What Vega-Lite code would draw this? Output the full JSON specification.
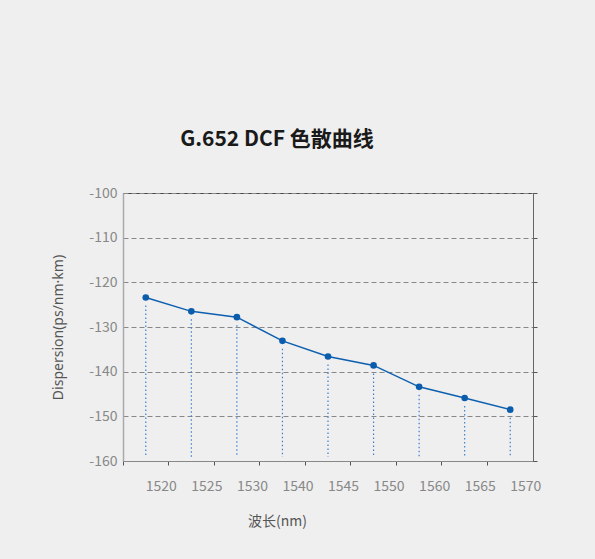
{
  "$schema": "https://vega.github.io/schema/vega-lite/v6.json",
  "width": 410,
  "height": 268,
  "autosize": {"type": "none"},
  "padding": {"left": 123, "top": 193, "right": 62, "bottom": 98},
  "background": "#efefef",
  "config": {
    "font": "Noto Sans CJK SC",
    "view": {"stroke": "#444", "strokeWidth": 1}
  },
  "title": {
    "text": "G.652 DCF 色散曲线",
    "font": "Noto Sans CJK SC",
    "fontSize": 21,
    "fontWeight": "bold",
    "color": "#1a1a1a",
    "anchor": "middle",
    "baseline": "alphabetic",
    "offset": 19,
    "dx": -51
  },
  "data": {
    "values": [
      {"wl": "1520", "d": -123.4},
      {"wl": "1525", "d": -126.5},
      {"wl": "1530", "d": -127.8},
      {"wl": "1540", "d": -133.1},
      {"wl": "1545", "d": -136.6},
      {"wl": "1550", "d": -138.6},
      {"wl": "1560", "d": -143.4},
      {"wl": "1565", "d": -145.9},
      {"wl": "1570", "d": -148.5}
    ]
  },
  "encoding": {
    "x": {
      "field": "wl",
      "type": "ordinal",
      "sort": null,
      "scale": {"type": "band", "paddingInner": 0, "paddingOuter": 0},
      "axis": {
        "title": "波长(nm)",
        "titleFont": "Noto Sans CJK SC",
        "titleFontSize": 14,
        "titleFontWeight": "normal",
        "titleColor": "#555",
        "titleX": 154,
        "titleY": 60,
        "titleBaseline": "middle",
        "titleAlign": "center",
        "labelAngle": 0,
        "labelAlign": "left",
        "labelOffset": 0,
        "labelBaseline": "middle",
        "labelPadding": 21,
        "labelFontSize": 14,
        "labelColor": "#888",
        "bandPosition": 0,
        "ticks": true,
        "tickSize": 4,
        "tickColor": "#555",
        "domainColor": "#888",
        "grid": false
      }
    }
  },
  "layer": [
    {
      "mark": {"type": "rule", "color": "#3a7fd0", "strokeWidth": 1.2, "strokeDash": [1.5, 2.5], "yOffset": 8, "y2Offset": -4},
      "encoding": {
        "y": {"field": "d", "type": "quantitative", "scale": {"domain": [-160, -100], "nice": false, "zero": false}, "axis": null},
        "y2": {"datum": -160}
      }
    },
    {
      "mark": {"type": "line", "color": "#0d5fb0", "strokeWidth": 1.5},
      "encoding": {
        "y": {
          "field": "d",
          "type": "quantitative",
          "scale": {"domain": [-160, -100], "nice": false, "zero": false},
          "axis": {
            "orient": "left",
            "values": [-160, -150, -140, -130, -120, -110, -100],
            "labelExpr": "replace(datum.label, '\u2212', '-')",
            "title": "Dispersion(ps/nm·km)",
            "titleFont": "Noto Sans",
            "titleFontSize": 14,
            "titleFontWeight": "normal",
            "titleColor": "#555",
            "titleX": -65,
            "titleY": 134,
            "titleBaseline": "middle",
            "titleAlign": "center",
            "labelFontSize": 14,
            "labelColor": "#888",
            "labelPadding": 6,
            "ticks": false,
            "domainColor": "#aaa",
            "domainWidth": 1.5,
            "grid": true,
            "gridColor": "#888",
            "gridDash": [5, 3],
            "gridWidth": 1
          }
        }
      }
    },
    {
      "mark": {"type": "point", "filled": true, "shape": "circle", "size": 44, "color": "#0a5cad", "opacity": 1},
      "encoding": {
        "y": {
          "field": "d",
          "type": "quantitative",
          "scale": {"domain": [-160, -100], "nice": false, "zero": false},
          "axis": {
            "orient": "right",
            "values": [-160, -150, -140, -130, -120, -110, -100],
            "title": null,
            "labels": false,
            "ticks": true,
            "tickSize": 4,
            "tickColor": "#555",
            "domainColor": "#666",
            "grid": false
          }
        }
      }
    }
  ],
  "resolve": {"axis": {"y": "independent"}}
}
